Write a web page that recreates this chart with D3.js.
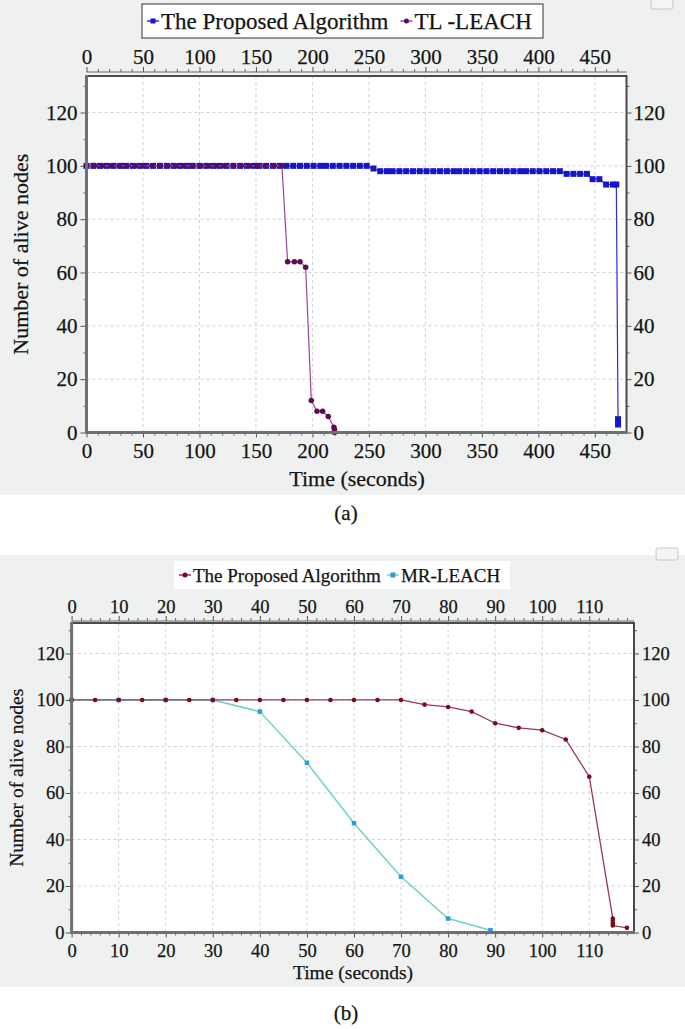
<!DOCTYPE html>
<html><head><meta charset="utf-8">
<script src="https://cdn.jsdelivr.net/npm/d3@7"></script>
<style>
html,body{margin:0;padding:0;background:#fff;}
svg text{font-family:"Liberation Serif","Times New Roman",serif;fill:#141414;stroke:#141414;stroke-width:0.25px;}
</style></head>
<body>
<svg id="c" width="685" height="1029"></svg>
<script>
// ---------- Panel (a) data ----------
const aXTicks = [0,50,100,150,200,250,300,350,400,450];
const aYTicks = [0,20,40,60,80,100,120];
const aProposedTime = [0,6,12,18,24,30,35,41,47,53,59,65,71,77,83,89,94,100,106,112,118,124,130,136,142,148,153,159,165,171,177,183,189,195,201,207,212,218,224,230,236,242,248,254,260,266,271,277,283,289,295,301,307,313,319,325,330,336,342,348,354,360,366,372,378,384,389,395,401,407,413,419,425,431,437,443,448,454,460,466,469,470.5,470.5];
const aProposedAlive = [100,100,100,100,100,100,100,100,100,100,100,100,100,100,100,100,100,100,100,100,100,100,100,100,100,100,100,100,100,100,100,100,100,100,100,100,100,100,100,100,100,100,100,99,98,98,98,98,98,98,98,98,98,98,98,98,98,98,98,98,98,98,98,98,98,98,98,98,98,98,98,98,97,97,97,97,95,95,93,93,93,5,3];
const aTLTime = [0,7,14,22,29,36,43,50,58,65,72,79,86,94,101,108,115,122,130,137,144,151,158,166,173,178,184,189,194,199,204,209,214,219,219.5,219.5];
const aTLAlive = [100,100,100,100,100,100,100,100,100,100,100,100,100,100,100,100,100,100,100,100,100,100,100,100,100,64,64,64,62,12,8,8,6,2,1,0];

// ---------- Panel (b) data ----------
const bXTicks = [0,10,20,30,40,50,60,70,80,90,100,110];
const bYTicks = [0,20,40,60,80,100,120];
const bProposedTime = [0,5,10,15,20,25,30,35,40,45,50,55,60,65,70,75,80,85,90,95,100,105,110,115,115,115,115,118];
const bProposedAlive = [100,100,100,100,100,100,100,100,100,100,100,100,100,100,100,98,97,95,90,88,87,83,67,6,5,4,3,2];
const bMRTime = [0,10,20,30,40,50,60,70,80,89];
const bMRAlive = [100,100,100,100,95,73,47,24,6,1];

const svg = d3.select("#c");

function drawPanel(o){
  const g = svg.append("g");
  g.append("rect").attr("x",0).attr("y",o.bgTop).attr("width",685).attr("height",o.bgBottom-o.bgTop).attr("fill","#eef1ef");
  g.append("rect").attr("x",o.iconX).attr("y",o.iconY).attr("width",22).attr("height",12).attr("rx",2)
    .attr("fill","#f3f4f4").attr("stroke","#c4c8c8").attr("stroke-width",1);
  const x = d3.scaleLinear().domain(o.xDomain).range([o.left,o.right]);
  const y = d3.scaleLinear().domain(o.yDomain).range([o.bottom,o.top]);
  g.append("rect").attr("x",o.left).attr("y",o.top).attr("width",o.right-o.left).attr("height",o.bottom-o.top).attr("fill","#fff");
  g.append("g").selectAll("line").data(o.xTicks.filter(d=>d>0)).join("line")
    .attr("x1",d=>x(d)).attr("x2",d=>x(d)).attr("y1",o.top).attr("y2",o.bottom)
    .attr("stroke","#cfd3d3").attr("stroke-width",1).attr("stroke-dasharray","3,3");
  g.append("g").selectAll("line").data(o.yTicks.filter(d=>d>0)).join("line")
    .attr("y1",d=>y(d)).attr("y2",d=>y(d)).attr("x1",o.left).attr("x2",o.right)
    .attr("stroke","#cfd3d3").attr("stroke-width",1).attr("stroke-dasharray","3,3");

  const minorX = d3.range(o.xDomain[0], o.xDomain[1]+1e-9, o.xMinor).filter(v=>!o.xTicks.includes(+v.toFixed(6)));
  const minorY = d3.range(0, o.yDomain[1], 10).filter(v=>!o.yTicks.includes(v));

  function styleAxis(sel, fs){
    sel.selectAll("text").style("font-size",fs+"px");
    sel.selectAll("line").attr("stroke","#555");
    sel.select(".domain").remove();
  }
  const minorStyle = s=>{s.select(".domain").remove();s.selectAll("line").attr("stroke","#666");};
  const topY = o.top - o.topGap;
  g.append("line").attr("x1",o.left).attr("x2",o.right).attr("y1",topY).attr("y2",topY).attr("stroke","#666").attr("stroke-width",1);
  styleAxis(g.append("g").attr("transform",`translate(0,${topY})`)
    .call(d3.axisTop(x).tickValues(o.xTicks).tickFormat(d3.format("d")).tickSize(5).tickPadding(o.topPad)),o.fs);
  g.append("g").attr("transform",`translate(0,${topY})`)
    .call(d3.axisTop(x).tickValues(minorX).tickFormat("").tickSize(3)).call(minorStyle);
  styleAxis(g.append("g").attr("transform",`translate(0,${o.bottom})`)
    .call(d3.axisBottom(x).tickValues(o.xTicks).tickFormat(d3.format("d")).tickSize(5).tickPadding(o.botPad)),o.fs);
  g.append("g").attr("transform",`translate(0,${o.bottom})`)
    .call(d3.axisBottom(x).tickValues(minorX).tickFormat("").tickSize(3)).call(minorStyle);
  styleAxis(g.append("g").attr("transform",`translate(${o.left},0)`)
    .call(d3.axisLeft(y).tickValues(o.yTicks).tickSize(6).tickPadding(o.leftPad)),o.fs);
  g.append("g").attr("transform",`translate(${o.left},0)`)
    .call(d3.axisLeft(y).tickValues(minorY).tickFormat("").tickSize(3)).call(minorStyle);
  styleAxis(g.append("g").attr("transform",`translate(${o.right},0)`)
    .call(d3.axisRight(y).tickValues(o.yTicks).tickSize(5).tickPadding(o.rightPad)),o.fs);
  g.append("g").attr("transform",`translate(${o.right},0)`)
    .call(d3.axisRight(y).tickValues(minorY).tickFormat("").tickSize(3)).call(minorStyle);

  o.series.forEach(s=>{
    const pts = s.t.map((t,i)=>[t,s.v[i]]);
    g.append("path").datum(pts).attr("fill","none").attr("stroke",s.line).attr("stroke-width",s.lw)
      .attr("d",d3.line().x(d=>x(d[0])).y(d=>y(d[1])));
    if(s.shape==="square"){
      g.append("g").selectAll("rect").data(pts).join("rect")
        .attr("x",d=>x(d[0])-s.size/2).attr("y",d=>y(d[1])-s.size/2).attr("width",s.size).attr("height",s.size).attr("fill",s.mark);
    } else {
      g.append("g").selectAll("circle").data(pts).join("circle")
        .attr("cx",d=>x(d[0])).attr("cy",d=>y(d[1])).attr("r",s.size/2).attr("fill",s.mark);
    }
  });

  g.append("line").attr("x1",o.left).attr("x2",o.right).attr("y1",o.top).attr("y2",o.top).attr("stroke","#4a4a4a").attr("stroke-width",2);
  g.append("line").attr("x1",o.right).attr("x2",o.right).attr("y1",o.top-1).attr("y2",o.bottom).attr("stroke","#4a4a4a").attr("stroke-width",2);
  g.append("line").attr("x1",o.left).attr("x2",o.left).attr("y1",o.top-1).attr("y2",o.bottom+1.5).attr("stroke","#707070").attr("stroke-width",3);
  g.append("line").attr("x1",o.left).attr("x2",o.right+1).attr("y1",o.bottom).attr("y2",o.bottom).attr("stroke","#707070").attr("stroke-width",3);

  g.append("text").attr("x",o.xTitleX).attr("y",o.xTitleY).attr("text-anchor","middle").style("font-size",o.titleFs+"px").text("Time (seconds)");
  g.append("text").attr("transform",`translate(${o.yTitleX},${(o.top+o.bottom)/2}) rotate(-90)`).attr("text-anchor","middle")
    .style("font-size",o.titleFs+"px").text("Number of alive nodes");
  g.append("text").attr("x",346).attr("y",o.capY).attr("text-anchor","middle").style("font-size","21px").text(o.caption);

  const lg = g.append("g");
  lg.append("rect").attr("x",o.legX).attr("y",o.legY).attr("width",o.legW).attr("height",o.legH).attr("fill","#fff")
    .attr("stroke",o.legBorder?"#333":"none").attr("stroke-width",1);
  let cx = o.legX + 5;
  const cy = o.legY + o.legH/2;
  o.series.slice().sort((a,b)=>a.legOrder-b.legOrder).forEach(s=>{
    lg.append("line").attr("x1",cx).attr("x2",cx+12).attr("y1",cy).attr("y2",cy).attr("stroke",s.line).attr("stroke-width",1.5);
    if(s.shape==="square") lg.append("rect").attr("x",cx+6-2.5).attr("y",cy-2.5).attr("width",5).attr("height",5).attr("fill",s.mark);
    else lg.append("circle").attr("cx",cx+6).attr("cy",cy).attr("r",2.5).attr("fill",s.mark);
    const t = lg.append("text").attr("x",cx+14).attr("y",cy).attr("dy","0.35em").style("font-size",o.legFs+"px").text(s.name);
    cx += 14 + t.node().getComputedTextLength() + o.legGap;
  });
}

drawPanel({
  bgTop:0,bgBottom:495,iconX:651,iconY:-3,
  left:86.5,right:626.5,top:76,bottom:432.5,xDomain:[0,478],yDomain:[0,133.7],
  xTicks:aXTicks,yTicks:aYTicks,xMinor:10,fs:21,topGap:4,topPad:3,botPad:6,leftPad:3,rightPad:2,
  titleFs:22,xTitleX:357,xTitleY:486,yTitleX:28,capY:520,caption:"(a)",
  legX:142,legY:4,legW:401,legH:34,legBorder:true,legFs:23,legGap:12,
  series:[
    {name:"The Proposed Algorithm",t:aProposedTime,v:aProposedAlive,line:"#2b2bef",mark:"#1616c8",shape:"square",size:6,lw:1.2,legOrder:0},
    {name:"TL -LEACH",t:aTLTime,v:aTLAlive,line:"#99449a",mark:"#5e0c52",shape:"circle",size:5.5,lw:1.2,legOrder:1}
  ]
});

drawPanel({
  bgTop:555,bgBottom:987,iconX:656,iconY:548,
  left:71.6,right:634,top:623,bottom:932.5,xDomain:[0,119.5],yDomain:[0,133.1],
  xTicks:bXTicks,yTicks:bYTicks,xMinor:2,fs:18.5,topGap:2,topPad:3,botPad:6,leftPad:1,rightPad:3,
  titleFs:19.5,xTitleX:353,xTitleY:979,yTitleX:23,capY:1020,caption:"(b)",
  legX:174,legY:561,legW:336,legH:28,legBorder:false,legFs:19,legGap:6,
  series:[
    {name:"MR-LEACH",t:bMRTime,v:bMRAlive,line:"#6fd3c6",mark:"#2a9be2",shape:"square",size:4.5,lw:1.5,legOrder:1},
    {name:"The Proposed Algorithm",t:bProposedTime,v:bProposedAlive,line:"#93395f",mark:"#7d0a12",shape:"circle",size:4.6,lw:1.3,legOrder:0}
  ]
});
</script>
</body></html>
